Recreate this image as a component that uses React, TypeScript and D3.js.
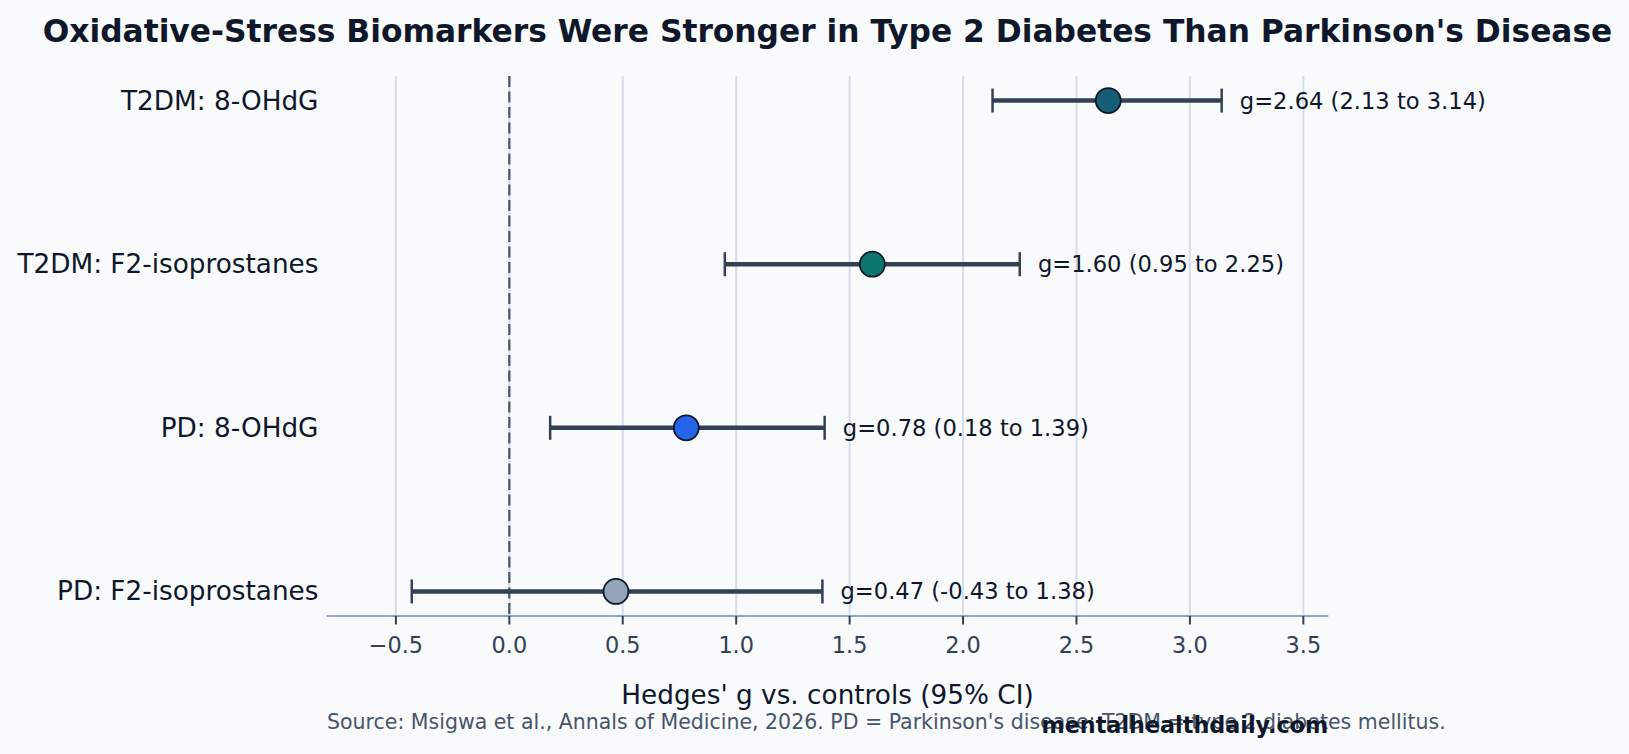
import React from "react";
import * as d3 from "d3";

// Forest-plot data: pooled Hedges' g with 95% confidence intervals
const labels = [
  "T2DM: 8-OHdG",
  "T2DM: F2-isoprostanes",
  "PD: 8-OHdG",
  "PD: F2-isoprostanes",
];
const estimates = [2.64, 1.6, 0.78, 0.47];
const lowerCI = [2.13, 0.95, 0.18, -0.43];
const upperCI = [3.14, 2.25, 1.39, 1.38];
const markerColors = ["#155e75", "#0f766e", "#2563eb", "#94a3b8"];
const xTicks = [-0.5, 0, 0.5, 1, 1.5, 2, 2.5, 3, 3.5];

const W = 1629;
const H = 754;
const plot = { left: 326.7, right: 1328.3, top: 76, bottom: 616 };
const FONT = "'DejaVu Sans', sans-serif";

const fmt = (v: number) => v.toFixed(2);

export default function App() {
  const x = d3.scaleLinear().domain([-0.805, 3.61]).range([plot.left, plot.right]);
  const y = d3
    .scaleLinear()
    .domain([-0.15, labels.length - 1 + 0.15])
    .range([plot.top, plot.bottom]);

  const rows = labels.map((label, i) => ({
    label,
    g: estimates[i],
    lo: lowerCI[i],
    hi: upperCI[i],
    color: markerColors[i],
  }));

  const capHalf = 12;
  const midX = (plot.left + plot.right) / 2;

  return (
    <div
      style={{
        position: "absolute",
        left: 0,
        top: 0,
        width: W,
        height: H,
        background: "#f8fafc",
      }}
    >
      <svg width={W} height={H} style={{ display: "block" }} fontFamily={FONT}>
        <rect x={0} y={0} width={W} height={H} fill="#f8fafc" />

        {/* Title */}
        <text
          x={midX}
          y={42}
          textAnchor="middle"
          fontSize={31.3}
          fontWeight="bold"
          fill="#0f172a"
        >
          Oxidative-Stress Biomarkers Were Stronger in Type 2 Diabetes Than Parkinson's Disease
        </text>

        {/* Vertical grid */}
        {xTicks.map((t) => (
          <line
            key={`g${t}`}
            x1={x(t)}
            x2={x(t)}
            y1={plot.top}
            y2={plot.bottom}
            stroke="#d5dde8"
            strokeWidth={2}
          />
        ))}

        {/* Null-effect reference line */}
        <line
          x1={x(0)}
          x2={x(0)}
          y1={plot.top}
          y2={plot.bottom}
          stroke="#475569"
          strokeWidth={2.2}
          strokeDasharray="11,4.5"
        />

        {/* Bottom spine, ticks and tick labels */}
        <line
          x1={plot.left}
          x2={plot.right}
          y1={plot.bottom}
          y2={plot.bottom}
          stroke="#94a3b8"
          strokeWidth={2}
        />
        {xTicks.map((t) => (
          <g key={`t${t}`}>
            <line
              x1={x(t)}
              x2={x(t)}
              y1={plot.bottom}
              y2={plot.bottom + 8.5}
              stroke="#334155"
              strokeWidth={2}
            />
            <text
              x={x(t)}
              y={652.5}
              textAnchor="middle"
              fontSize={22.4}
              fill="#334155"
            >
              {t < 0 ? `\u2212${Math.abs(t).toFixed(1)}` : t.toFixed(1)}
            </text>
          </g>
        ))}

        {/* Rows: CI bar, caps, marker, value label, category label */}
        {rows.map((r, i) => {
          const cy = y(i);
          return (
            <g key={r.label}>
              <text
                x={318.5}
                y={cy}
                textAnchor="end"
                dominantBaseline="central"
                fontSize={26.3}
                fill="#0f172a"
              >
                {r.label}
              </text>
              <line
                x1={x(r.lo)}
                x2={x(r.hi)}
                y1={cy}
                y2={cy}
                stroke="#334155"
                strokeWidth={4.5}
              />
              {[r.lo, r.hi].map((v, k) => (
                <line
                  key={k}
                  x1={x(v)}
                  x2={x(v)}
                  y1={cy - capHalf}
                  y2={cy + capHalf}
                  stroke="#334155"
                  strokeWidth={2.5}
                />
              ))}
              <circle
                cx={x(r.g)}
                cy={cy}
                r={12.5}
                fill={r.color}
                stroke="#0f172a"
                strokeWidth={1.8}
              />
              <text
                x={x(r.hi + 0.08)}
                y={cy}
                dominantBaseline="central"
                fontSize={22.6}
                fill="#0f172a"
              >
                {`g=${fmt(r.g)} (${fmt(r.lo)} to ${fmt(r.hi)})`}
              </text>
            </g>
          );
        })}

        {/* Axis title */}
        <text
          x={midX}
          y={695}
          textAnchor="middle"
          dominantBaseline="central"
          fontSize={26.3}
          fill="#0f172a"
        >
          Hedges' g vs. controls (95% CI)
        </text>

        {/* Source note and site credit */}
        <text x={327} y={722} dominantBaseline="central" fontSize={20.5} fill="#475569">
          Source: Msigwa et al., Annals of Medicine, 2026. PD = Parkinson's disease; T2DM = type 2 diabetes mellitus.
        </text>
        <text
          x={plot.right}
          y={725}
          textAnchor="end"
          dominantBaseline="central"
          fontSize={22.3}
          fontWeight="bold"
          fill="#0f172a"
        >
          mentalhealthdaily.com
        </text>
      </svg>
    </div>
  );
}
